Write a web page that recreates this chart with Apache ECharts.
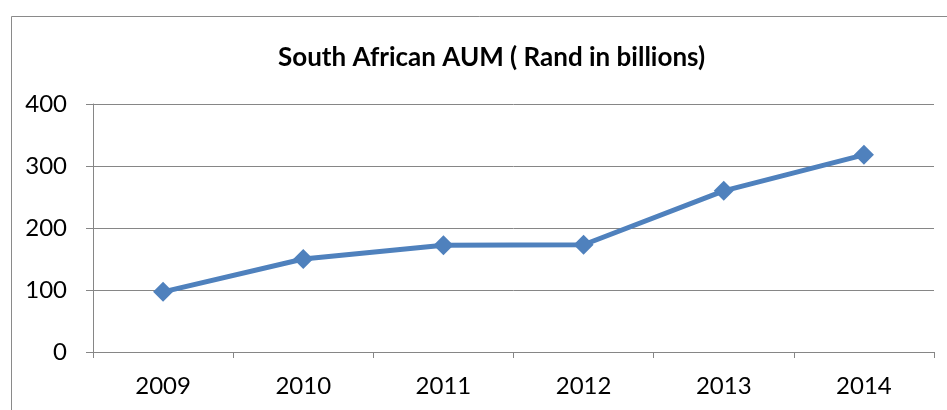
<!DOCTYPE html>
<html>
<head>
<meta charset="utf-8">
<script src="https://cdn.jsdelivr.net/npm/echarts@6/dist/echarts.min.js"></script>
<style>html,body{margin:0;padding:0;background:#fff}#c{width:947px;height:410px}</style>
</head>
<body>
<div id="c"></div>
<script>
var titleText = 'South African AUM ( Rand in billions)';
var categories = ['2009', '2010', '2011', '2012', '2013', '2014'];
var aumValues = [97, 150, 172, 173, 260, 318];
var yTicks = [0, 100, 200, 300, 400];

var chart = echarts.init(document.getElementById('c'));
chart.setOption({
  animation: false,
  backgroundColor: '#fff',
  title: {
    text: titleText,
    left: 273,
    top: 40,
    textStyle: {fontFamily: 'Lato', fontWeight: 'bold', fontSize: 26, color: '#000'}
  },
  graphic: [{
    type: 'rect', shape: {x: 11.5, y: 16.5, width: 1200, height: 800},
    style: {fill: 'none', stroke: '#8a8a8a', lineWidth: 1}, silent: true
  }],
  grid: {left: 93, right: 13, top: 104, bottom: 58},
  xAxis: {
    type: 'category', data: categories, boundaryGap: true,
    axisLine: {lineStyle: {color: '#868686', width: 1}},
    axisTick: {show: true, length: 6, lineStyle: {color: '#868686'}},
    axisLabel: {fontFamily: 'Lato', fontSize: 24, color: '#000', margin: 22}
  },
  yAxis: {
    type: 'value', min: yTicks[0], max: yTicks[yTicks.length - 1], interval: 100,
    axisLine: {show: true, lineStyle: {color: '#868686', width: 1}},
    axisTick: {show: true, length: 7, lineStyle: {color: '#868686'}},
    splitLine: {lineStyle: {color: '#868686', width: 1}},
    axisLabel: {fontFamily: 'Lato', fontSize: 24, color: '#000', margin: 26}
  },
  series: [{
    type: 'line', data: aumValues,
    symbol: 'diamond', symbolSize: 20,
    lineStyle: {color: '#4F81BD', width: 5},
    itemStyle: {color: '#4F81BD'}
  }]
});
</script>
</body>
</html>
